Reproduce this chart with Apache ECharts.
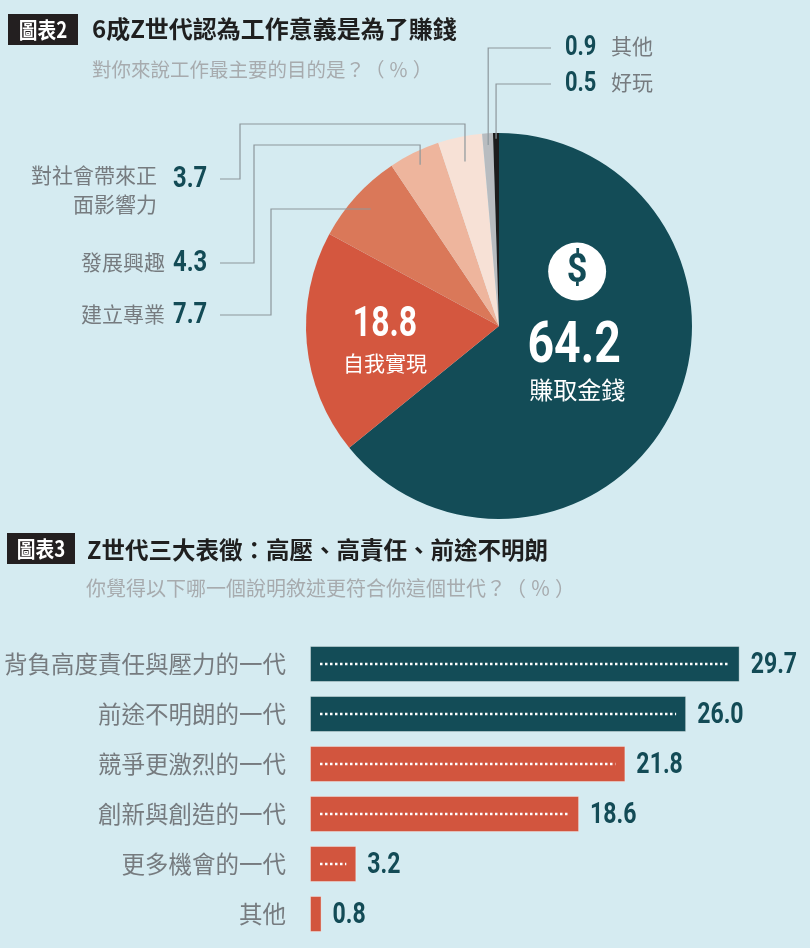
<!DOCTYPE html>
<html>
<head>
<meta charset="utf-8">
<script src="https://cdn.jsdelivr.net/npm/echarts@6/dist/echarts.min.js"></script>
<style>
  html, body { margin: 0; padding: 0; background: #d5ebf1; }
  #main { width: 810px; height: 948px; }
</style>
</head>
<body>
<div id="main"></div>
<script>
// 圖表2 圓餅圖資料
var pieNames = ['賺取金錢', '自我實現', '建立專業', '發展興趣', '對社會帶來正面影響力', '其他', '好玩'];
var pieValues = [64.2, 18.8, 7.7, 4.3, 3.7, 0.9, 0.5];
var pieColors = ['#134c57', '#d4573f', '#da7859', '#eeb59d', '#f7e1d6', '#b8bcc0', '#1c1c1c'];

// 圖表3 長條圖資料
var barNames = ['背負高度責任與壓力的一代', '前途不明朗的一代', '競爭更激烈的一代', '創新與創造的一代', '更多機會的一代', '其他'];
var barValues = [29.7, 26.0, 21.8, 18.6, 3.2, 0.8];
var barColors = ['#134c57', '#134c57', '#d2553e', '#d2553e', '#d2553e', '#d2553e'];

var CJK = '"Noto Sans CJK TC", "Noto Sans", sans-serif';
var NUM = 'Roboto, "Noto Sans", sans-serif';
var TEAL = '#134b56';
var GREY = '#767b7f';
var LINE = '#8d979c';
var NARROW = 0.77; // 數字字型壓窄

var chart = echarts.init(document.getElementById('main'));

chart.setOption({
    backgroundColor: '#d5ebf1',
    animation: false,
    grid: { left: 310, top: 639, width: 434, height: 300 },
    xAxis: { type: 'value', min: 0, max: 30, show: false },
    yAxis: {
        type: 'category', inverse: true, data: barNames,
        axisLine: { show: false }, axisTick: { show: false },
        axisLabel: { color: GREY, fontSize: 23.5, fontFamily: CJK, margin: 24 }
    },
    series: [
        {
            type: 'pie', center: [499, 326], radius: 193, startAngle: 90, clockwise: true,
            silent: true, label: { show: false }, labelLine: { show: false },
            data: pieValues.map(function (v, i) {
                return { value: v, name: pieNames[i], itemStyle: { color: pieColors[i] } };
            })
        },
        {
            type: 'bar', barWidth: 36, silent: true,
            data: barValues.map(function (v, i) { return { value: v, itemStyle: { color: barColors[i] } }; }),
            itemStyle: { borderColor: 'rgba(255,255,255,0.35)', borderWidth: 1 }
        },
        {
            // 長條內的白色點線與數值
            type: 'custom', silent: true, z: 5,
            encode: { x: 0, y: 1 },
            data: barValues.map(function (v, i) { return [v, i]; }),
            renderItem: function (params, api) {
                var v = api.value(0);
                var start = api.coord([0, api.value(1)]);
                var end = api.coord([v, api.value(1)]);
                var children = [{
                    type: 'text', x: end[0] + 11, y: end[1] + 1, scaleX: NARROW,
                    style: { text: v.toFixed(1), fill: TEAL, fontSize: 30, fontWeight: 'bold', fontFamily: NUM,
                        align: 'left', verticalAlign: 'middle' }
                }];
                if (end[0] - start[0] > 30) {
                    children.push({
                        type: 'line',
                        shape: { x1: start[0] + 10, y1: start[1], x2: end[0] - 10, y2: end[1] },
                        style: { stroke: '#fff', lineWidth: 2.5, lineDash: [2.5, 2.5] }
                    });
                }
                return { type: 'group', children: children };
            }
        }
    ]
});

// 以下標籤的錨點取自圓餅圖的排版結果
var pieLayout = chart.getModel().getSeriesByIndex(0).getData();
function anchor(idx, k) {
    var l = pieLayout.getItemLayout(idx);
    var m = (l.startAngle + l.endAngle) / 2;
    return [l.cx + l.r * k * Math.cos(m), l.cy + l.r * k * Math.sin(m)];
}

var g = [];
function txt(x, y, s, size, color, family, weight, align, sx) {
    g.push({
        type: 'text', x: x, y: y, z: 100, silent: true, scaleX: sx || 1,
        style: { text: s, fontSize: size, fill: color, fontFamily: family, fontWeight: weight || 'normal',
            align: align || 'left', verticalAlign: 'middle' }
    });
}

// 圓餅圖內的大標籤
var a0 = anchor(0, 0.5);
g.push({ type: 'circle', z: 90, silent: true, shape: { cx: a0[0] - 9, cy: a0[1] - 96, r: 29 }, style: { fill: '#fff' } });
txt(a0[0] - 9, a0[1] - 95, '$', 40, '#134c57', NUM, 'bold', 'center', 0.9);
txt(a0[0] - 12, a0[1] - 20, pieValues[0].toFixed(1), 58, '#fff', NUM, 'bold', 'center', 0.8);
txt(a0[0] - 9, a0[1] + 22, pieNames[0], 24, '#fff', CJK, 'normal', 'center');

var a1 = anchor(1, 0.5);
txt(a1[0] - 18, a1[1] - 9, pieValues[1].toFixed(1), 42, '#fff', NUM, 'bold', 'center', 0.76);
txt(a1[0] - 18, a1[1] + 28, pieNames[1], 21, '#fff', CJK, 'normal', 'center');

// 外側標籤與引線
var leftLeaders = [
    { idx: 4, wrap: 6, textRight: 157, y: 179, elbowX: 240, topY: 124, k: 0.87 },
    { idx: 3, wrap: 0, textRight: 165, y: 263, elbowX: 254, topY: 145, k: 0.93 },
    { idx: 2, wrap: 0, textRight: 165, y: 315, elbowX: 271, topY: null, k: 0.9 }
];
var topLeaders = [
    { idx: 5, y: 48, k: 0.94 },
    { idx: 6, y: 84, k: 0.97 }
];

leftLeaders.forEach(function (d) {
    var a = anchor(d.idx, d.k);
    var pts;
    if (d.topY === null) {
        pts = [[220, d.y], [d.elbowX, d.y], [d.elbowX, a[1]], [a[0], a[1]]];
    } else {
        pts = [[220, d.y], [d.elbowX, d.y], [d.elbowX, d.topY], [a[0], d.topY], [a[0], a[1]]];
    }
    g.push({ type: 'polyline', z: 100, silent: true, shape: { points: pts }, style: { stroke: LINE, lineWidth: 1.2, fill: null } });
    var name = pieNames[d.idx];
    if (d.wrap) {
        txt(d.textRight, d.y - 4, name.slice(0, d.wrap), 21, GREY, CJK, 'normal', 'right');
        txt(d.textRight, d.y + 25, name.slice(d.wrap), 21, GREY, CJK, 'normal', 'right');
    } else {
        txt(d.textRight, d.y - 1, name, 21, GREY, CJK, 'normal', 'right');
    }
    txt(173, d.y + 1, pieValues[d.idx].toFixed(1), 29, TEAL, NUM, 'bold', 'left', 0.82);
});

topLeaders.forEach(function (d) {
    var a = anchor(d.idx, d.k);
    g.push({ type: 'polyline', z: 100, silent: true, shape: { points: [[551, d.y], [a[0], d.y], [a[0], a[1]]] },
        style: { stroke: LINE, lineWidth: 1.2, fill: null } });
    txt(565, d.y, pieValues[d.idx].toFixed(1), 28, TEAL, NUM, 'bold', 'left', 0.78);
    txt(611, d.y - 2, pieNames[d.idx], 21, GREY, CJK);
});

// 標題
g.push({ type: 'rect', silent: true, shape: { x: 8, y: 14, width: 70, height: 31 }, style: { fill: '#231f20' } });
txt(43, 30, '圖表2', 22, '#fff', CJK, 'bold', 'center', 0.85);
txt(92, 29, '6成Z世代認為工作意義是為了賺錢', 24, '#1f1f1f', CJK, 'bold');
txt(92, 70, '對你來說工作最主要的目的是？（ ％ ）', 19.5, '#a7abae', CJK);

g.push({ type: 'rect', silent: true, shape: { x: 7, y: 533, width: 68, height: 31 }, style: { fill: '#231f20' } });
txt(41, 549, '圖表3', 22, '#fff', CJK, 'bold', 'center', 0.85);
txt(87, 550, 'Z世代三大表徵：高壓、高責任、前途不明朗', 23.5, '#1f1f1f', CJK, 'bold');
txt(86, 588, '你覺得以下哪一個說明敘述更符合你這個世代？（ ％ ）', 20, '#a7abae', CJK);

chart.setOption({ graphic: g });
</script>
</body>
</html>
